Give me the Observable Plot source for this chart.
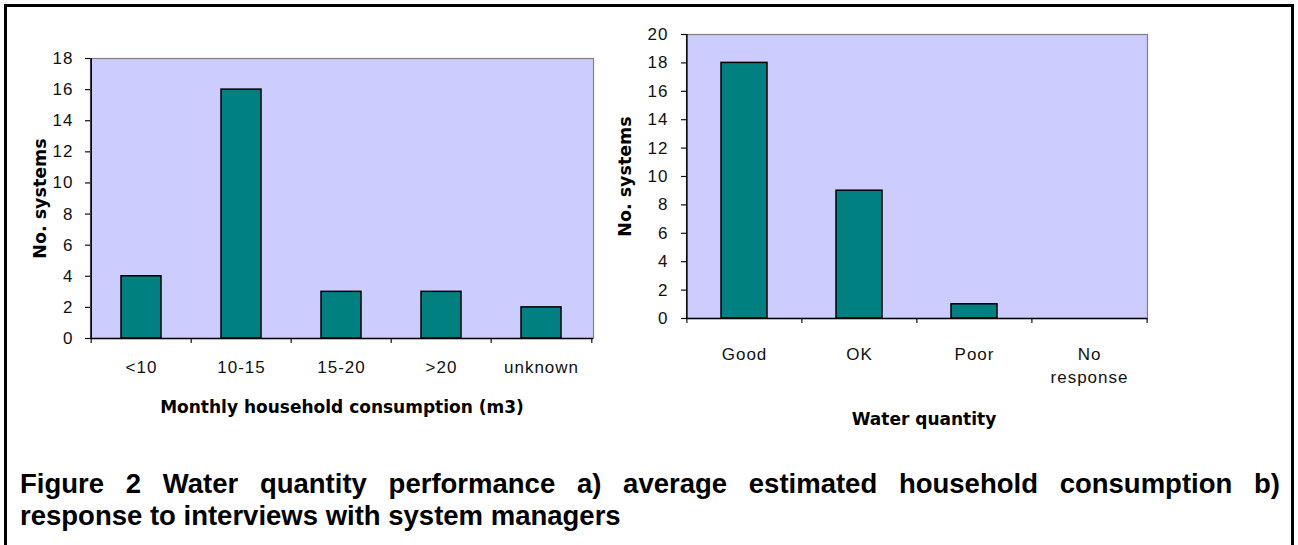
<!DOCTYPE html>
<html>
<head>
<meta charset="utf-8">
<script src="https://cdn.jsdelivr.net/npm/d3@7"></script>
<script src="https://cdn.jsdelivr.net/npm/@observablehq/plot@0.6"></script>
<style>
  html, body { margin: 0; padding: 0; background: #fff; overflow: hidden; }
  #page { position: relative; width: 1298px; height: 545px; overflow: hidden; }
  #border { position: absolute; left: 4px; top: 4px; width: 1290px; height: 600px; border: 3px solid #000; box-sizing: border-box; }
  .chart { position: absolute; top: 0; }
  .chart g[aria-label$="tick label"] text { letter-spacing: 1px; }
  #caption { position: absolute; left: 20px; top: 468px; width: 1260px; font: bold 27.5px "Liberation Sans", Arial, sans-serif; line-height: 32px; color: #000; }
  #caption .l1 { display: block; text-align: justify; text-align-last: justify; white-space: nowrap; }
  #caption .l2 { display: block; text-align: left; white-space: nowrap; }
</style>
</head>
<body>
<div id="page">
  <div id="border"></div>
  <div id="left" class="chart" style="left:0px"></div>
  <div id="right" class="chart" style="left:600px"></div>
  <div id="caption"></div>
</div>
<script>
// ---- data ----
const leftCategories = ["<10", "10-15", "15-20", ">20", "unknown"];
const leftValues = [4, 16, 3, 3, 2];
const leftYTicks = [0, 2, 4, 6, 8, 10, 12, 14, 16, 18];
const leftXTitle = "Monthly household consumption (m3)";

const rightCategories = ["Good", "OK", "Poor", "No response"];
const rightValues = [18, 9, 1, 0];
const rightYTicks = [0, 2, 4, 6, 8, 10, 12, 14, 16, 18, 20];
const rightXTitle = "Water quantity";

const yTitle = "No. systems";
const captionLines = [
  "Figure 2 Water quantity performance a) average estimated household consumption b)",
  "response to interviews with system managers"
];

const tickFont = "'Liberation Sans', Arial, sans-serif";

function chart(cfg) {
  const cats = cfg.cats;
  const data = cats.map((c, i) => ({c, v: cfg.vals[i]}));
  const step = (cfg.width - cfg.mL - cfg.mR) / cats.length;
  const yMax = cfg.yTicks[cfg.yTicks.length - 1];
  return Plot.plot({
    width: cfg.width,
    height: cfg.height,
    marginLeft: cfg.mL, marginRight: cfg.mR, marginTop: cfg.mT, marginBottom: cfg.mB,
    style: {fontFamily: "'DejaVu Sans', sans-serif", fontSize: "17px", background: "transparent", overflow: "visible", color: "#111"},
    x: {domain: cats, paddingInner: 0.6, paddingOuter: 0.3},
    y: {domain: [0, yMax]},
    marks: [
      Plot.frame({fill: "#ccccff", stroke: "#808080", strokeWidth: 1.2}),
      Plot.barY(data, {x: "c", y: "v", fill: "#008080", stroke: "#000", strokeWidth: 1.5}),
      Plot.ruleY([0], {stroke: "#000", strokeWidth: 1.5}),
      Plot.ruleX([cats[0]], {stroke: "#000", strokeWidth: 1.5, dx: -step / 2}),
      Plot.axisY({ticks: cfg.yTicks, tickSize: 5, tickPadding: cfg.yPad, label: null, strokeWidth: 1.2, fontFamily: tickFont, fontSize: 17}),
      Plot.axisX({tickSize: 5, tickFormat: () => "", dx: -step / 2, label: null, strokeWidth: 1.2}),
      Plot.axisX([cats[cats.length - 1]], {tickSize: 5, tickFormat: () => "", dx: step / 2, label: null, strokeWidth: 1.2}),
      Plot.axisX({tickSize: 0, tickPadding: cfg.xPad, tickFormat: d => d.replace(" ", "\n"), lineHeight: 1.35, label: null, fontFamily: tickFont, fontSize: 17}),
      Plot.text([cfg.xTitle], {text: d => d, frameAnchor: "bottom", dy: cfg.xTitleDy, dx: cfg.xTitleDx, textAnchor: "middle", fontWeight: "bold", fontSize: 17, lineAnchor: "middle", fill: "#000"}),
      Plot.text([yTitle], {text: d => d, frameAnchor: "left", dx: cfg.yTitleDx, rotate: -90, textAnchor: "middle", fontWeight: "bold", fontSize: 17.5, lineAnchor: "middle", fill: "#000"})
    ]
  });
}

document.getElementById("left").appendChild(chart({
  cats: leftCategories, vals: leftValues, yTicks: leftYTicks, xTitle: leftXTitle,
  width: 650, height: 440, mL: 90, mR: 57, mT: 58, mB: 102,
  yPad: 12, xPad: 18, xTitleDy: 69, xTitleDx: 0, yTitleDx: -50
}));

document.getElementById("right").appendChild(chart({
  cats: rightCategories, vals: rightValues, yTicks: rightYTicks, xTitle: rightXTitle,
  width: 698, height: 440, mL: 86, mR: 151, mT: 34, mB: 122,
  yPad: 13, xPad: 25, xTitleDy: 101, xTitleDx: 7, yTitleDx: -61
}));

const cap = document.getElementById("caption");
captionLines.forEach((t, i) => {
  const s = document.createElement("span");
  s.className = "l" + (i + 1);
  s.textContent = t;
  cap.appendChild(s);
});
</script>
</body>
</html>
